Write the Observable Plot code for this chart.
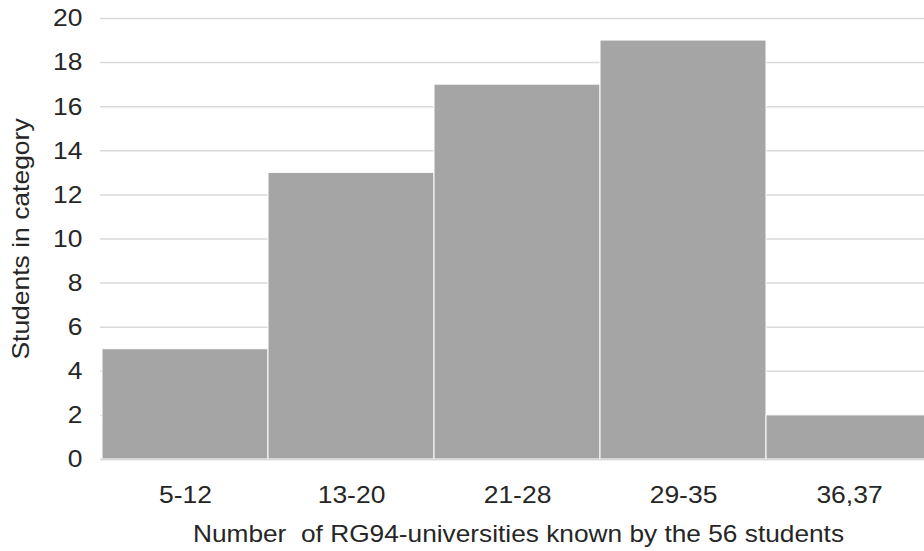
<!DOCTYPE html>
<html>
<head>
<meta charset="utf-8">
<script src="https://cdn.jsdelivr.net/npm/d3@7"></script>
<script src="https://cdn.jsdelivr.net/npm/@observablehq/plot@0.6"></script>
<style>
  html, body { margin: 0; padding: 0; background: #fff; overflow: hidden; }
  #chart svg { overflow: hidden; }
</style>
</head>
<body>
<div id="chart"></div>
<script>
// Number of RG94 universities known, grouped into ranges
const categories = ["5-12", "13-20", "21-28", "29-35", "36,37"];
const students = [5, 13, 17, 19, 2];
const yTicks = [0, 2, 4, 6, 8, 10, 12, 14, 16, 18, 20];
const xTitle = "Number\u00A0 of RG94-universities known by the 56 students";
const yTitle = "Students in category";

const rows = categories.map((c, i) => ({category: c, count: students[i]}));

const font = "'Liberation Sans', Arial, sans-serif";
const ink = "#262626";
const grid = "#d9d9d9";
const fs = 24.5;

const chart = Plot.plot({
  width: 924,
  height: 551,
  marginLeft: 100,
  marginRight: 0,
  marginTop: 18,
  marginBottom: 92,
  style: {fontFamily: font, fontSize: fs + "px", color: ink, background: "#fff"},
  x: {domain: categories, range: [100, 933], padding: 0},
  y: {domain: [0, 20]},
  marks: [
    Plot.ruleY(yTicks, {stroke: grid, strokeWidth: 1.5}),
    Plot.barY(rows, {x: "category", y: "count", fill: "#a5a5a5", stroke: "#fff", strokeWidth: 1}),
    Plot.ruleY([0], {stroke: grid, strokeWidth: 1.5}),
    Plot.ruleX([0], {x: () => 100, y1: 0, y2: 20, stroke: grid, strokeWidth: 1.5}),
    Plot.axisY({ticks: yTicks, tickSize: 0, tickPadding: 18, label: null, fontSize: fs, fill: ink}),
    Plot.axisX({tickSize: 0, tickPadding: 26, label: null, fontSize: fs, fill: ink}),
    Plot.text([xTitle], {frameAnchor: "bottom", dx: 6, dy: 82, fontSize: fs, fill: ink, text: d => d, className: "x-title"}),
    Plot.text([yTitle], {frameAnchor: "left", dx: -79, rotate: -90, textAnchor: "middle", fontSize: fs, fill: ink, text: d => d})
  ]
});

document.getElementById("chart").append(chart);

// Widen the labels slightly along their baseline, keeping each anchor in place
d3.select(chart).selectAll("text").each(function () {
  const inTitle = this.closest(".x-title") !== null;
  const k = inTitle ? 1.072 : 1.08;
  const len = this.getComputedTextLength();
  this.setAttribute("textLength", (len * k).toFixed(1));
  this.setAttribute("lengthAdjust", "spacingAndGlyphs");
});
</script>
</body>
</html>
